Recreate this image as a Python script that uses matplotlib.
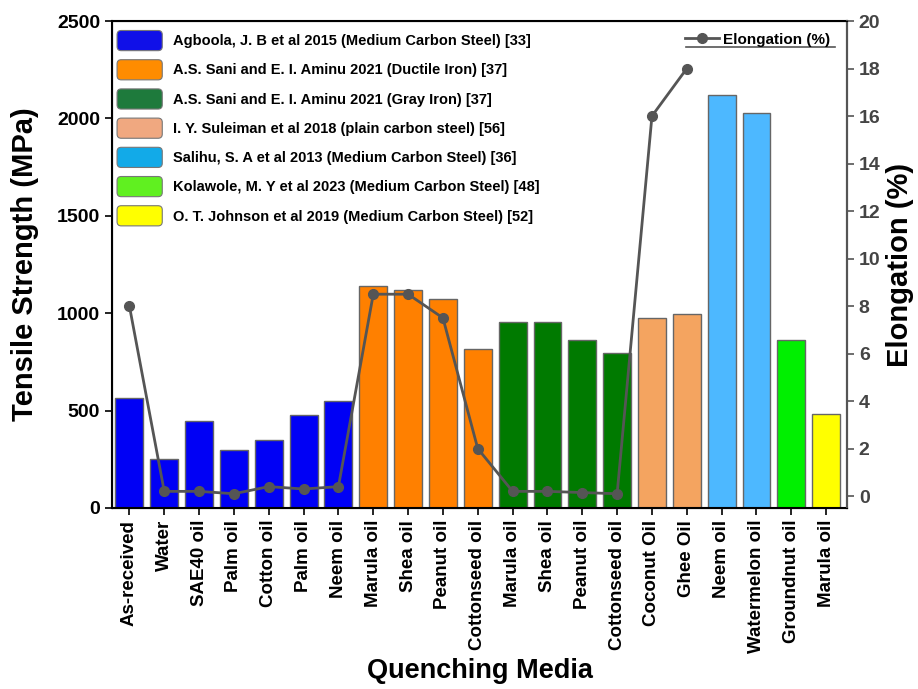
import numpy as np
import matplotlib.pyplot as plt
from matplotlib.patches import Patch, FancyBboxPatch
from matplotlib.legend_handler import HandlerPatch
from matplotlib.lines import Line2D

plt.rcParams['font.family'] = ['Liberation Sans', 'DejaVu Sans']
plt.rcParams['font.weight'] = 'bold'

# quenching media (x categories)
media = ['As-received', 'Water', 'SAE40 oil', 'Palm oil', 'Cotton oil', 'Palm oil', 'Neem oil',
         'Marula oil', 'Shea oil', 'Peanut oil', 'Cottonseed oil',
         'Marula oil', 'Shea oil', 'Peanut oil', 'Cottonseed oil',
         'Coconut Oil', 'Ghee Oil', 'Neem oil', 'Watermelon oil', 'Groundnut oil', 'Marula oil']
tensile = [563, 250, 447, 300, 347, 477, 548,
           1138, 1120, 1074, 816,
           957, 953, 864, 796,
           976, 998, 2121, 2030, 861, 481]
# elongation only reported for the first 17 media
elong = [8, 0.2, 0.2, 0.1, 0.4, 0.3, 0.4,
         8.5, 8.5, 7.5, 2,
         0.2, 0.2, 0.15, 0.1,
         16, 18]

sources = ['Agboola, J. B et al 2015 (Medium Carbon Steel) [33]',
           'A.S. Sani and E. I. Aminu 2021 (Ductile Iron) [37]',
           'A.S. Sani and E. I. Aminu 2021 (Gray Iron) [37]',
           'I. Y. Suleiman et al 2018 (plain carbon steel) [56]',
           'Salihu, S. A et al 2013 (Medium Carbon Steel) [36]',
           'Kolawole, M. Y et al 2023 (Medium Carbon Steel) [48]',
           'O. T. Johnson et al 2019 (Medium Carbon Steel) [52]']
group_sizes = [7, 4, 4, 2, 2, 1, 1]
colors = ['#0000F5', '#FF8000', '#007A00', '#F4A460', '#4DB8FF', '#00F000', '#FFFF00']
legend_colors = ['#1010E8', '#FF8C00', '#1E7A3C', '#F0A880', '#12AAE8', '#60F020', '#FFFF00']

bar_colors = []
for c, n in zip(colors, group_sizes):
    bar_colors += [c] * n

x = np.arange(len(media))

fig = plt.figure(figsize=(9.18, 6.89), dpi=100)
ax = fig.add_axes([0.122, 0.2627, 0.8007, 0.7068])

ax.bar(x, tensile, width=0.8, color=bar_colors, edgecolor='#666666', linewidth=1.0, zorder=2)
ax.set_xlim(-0.5, 20.6)
ax.set_ylim(0, 2500)
ax.set_yticks([0, 500, 1000, 1500, 2000, 2500])
ax.set_xticks(x)
ax.set_xticklabels(media, rotation=90, fontsize=13.5, fontweight='bold')
ax.tick_params(axis='y', labelsize=14, width=1.2, length=5)
ax.tick_params(axis='x', width=1.2, length=5)
ax.set_ylabel('Tensile Strength (MPa)', fontsize=21, fontweight='bold', labelpad=13)
ax.set_xlabel('Quenching Media', fontsize=19.5, fontweight='bold', labelpad=3)
for s in ax.spines.values():
    s.set_linewidth(1.5)

ax2 = ax.twinx()
ax2.plot(x[:len(elong)], elong, color='#555555', marker='o', markersize=7, linewidth=2,
         label='Elongation (%)', zorder=3)
ax2.set_ylim(-0.5, 20)
ax2.set_yticks(range(0, 21, 2))
ax2.tick_params(axis='y', labelsize=14, width=1.2, length=5, colors='#555555')
ax2.spines['right'].set_color('#555555')
ax2.spines['right'].set_linewidth(1.5)
ax2.set_ylabel('Elongation (%)', fontsize=21, fontweight='bold', labelpad=4)
for lbl in ax2.get_yticklabels():
    lbl.set_color('#444444')


def rounded(legend, orig_handle, xdescent, ydescent, width, height, fontsize):
    return FancyBboxPatch((-xdescent, -ydescent), width, height,
                          boxstyle='round,pad=0,rounding_size=3')


handles = [Patch(facecolor=c, edgecolor='#777777', linewidth=0.8) for c in legend_colors]
leg = ax2.legend(handles, sources, loc='upper left', bbox_to_anchor=(-0.006, 1.0),
                 frameon=False, fontsize=10.5, handlelength=3.1, handleheight=1.75,
                 labelspacing=0.62, handletextpad=0.75, borderaxespad=0.25,
                 handler_map={Patch: HandlerPatch(patch_func=rounded)})
ax2.add_artist(leg)

leg2 = ax2.legend(loc='upper right', bbox_to_anchor=(0.99, 0.995), frameon=False, fontsize=11,
                  handlelength=2.2, handletextpad=0.3, borderaxespad=0.2)
# rule under the elongation legend entry
ax2.add_line(Line2D([0.781, 0.984], [0.947, 0.947], transform=ax2.transAxes,
                    color='#555555', linewidth=1.2))

fig.savefig('out.png', dpi=100)
